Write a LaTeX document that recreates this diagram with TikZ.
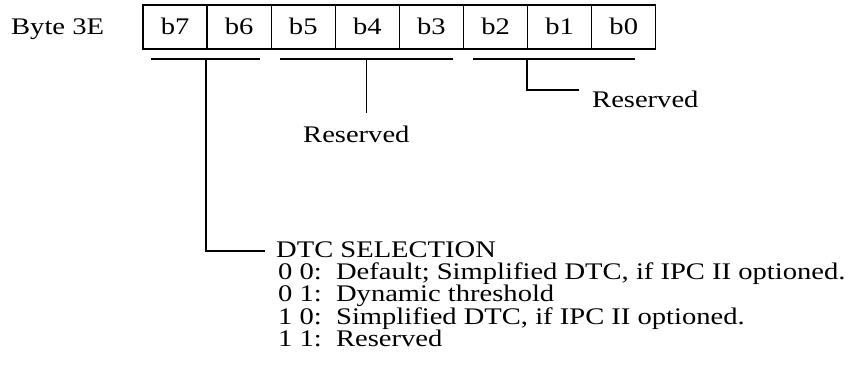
\documentclass[tikz,border=0pt]{standalone}
\usepackage{fontspec}
\setmainfont[FakeStretch=1.2]{Liberation Serif}
\begin{document}
\begin{tikzpicture}[x={(1pt,0)},y={(0,-1pt)},
  every node/.style={font=\fontsize{23.8}{22}\selectfont, inner sep=0pt},
  cell/.style={draw, line width=1.3pt, minimum width=64.1pt, minimum height=44pt, text height=17pt, text depth=3pt},
  bar/.style={line width=1.8pt},
  lead/.style={line width=1.5pt},
  txt/.style={anchor=base west}]
\useasboundingbox (0,0) rectangle (859,368);
% title
\node[txt] (title) at (11,34) {Byte 3E};
% bit cells
\foreach \b [count=\i from 0] in {7,6,5,4,3,2,1,0}
  \node[cell] (b\b) at ({175.05+64.1*\i},27) {b\b};
% bracket bars
\coordinate (s1a) at (151,59); \coordinate (s1b) at (260,59);
\coordinate (s2a) at (280,59); \coordinate (s2b) at (453,59);
\coordinate (s3a) at (473,59); \coordinate (s3b) at (635,59);
\draw[bar] (s1a) -- (s1b);
\draw[bar] (s2a) -- (s2b);
\draw[bar] (s3a) -- (s3b);
\coordinate (m1) at (206,59);
\coordinate (m2) at (366.5,59);
\coordinate (m3) at (527,59);
% texts
\node[txt] (res2) at (303,142) {Reserved};
\node[txt] (res3) at (592,107) {Reserved};
\node[txt] (dtc) at (276,257) {DTC SELECTION};
\node[txt] (l1) at (278,279.5) {0 0:\ \ Default; Simplified DTC, if IPC II optioned.};
\node[txt] (l2) at (278,301.8) {0 1:\ \ Dynamic threshold};
\node[txt] (l3) at (278,324.1) {1 0:\ \ Simplified DTC, if IPC II optioned.};
\node[txt] (l4) at (278,346.4) {1 1:\ \ Reserved};
% leaders
\coordinate (e1) at (265,251);
\coordinate (e2) at (366.5,113);
\coordinate (e3) at (579,90);
\draw[lead] (m1) |- (e1);
\draw[lead] (m2) -- (e2);
\draw[lead] (m3) |- (e3);
\end{tikzpicture}
\end{document}
